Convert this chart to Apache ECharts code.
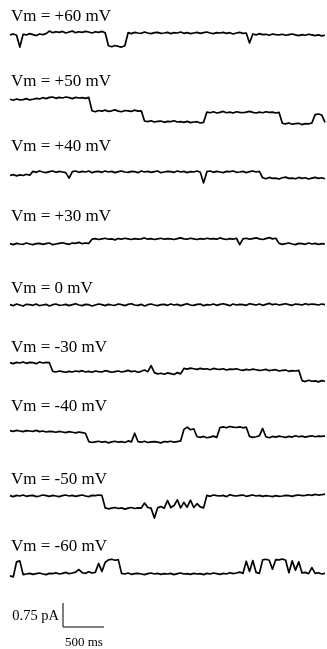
<!DOCTYPE html>
<html>
<head>
<meta charset="utf-8">
<script src="https://cdn.jsdelivr.net/npm/echarts@6/dist/echarts.min.js"></script>
<style>
  html, body { margin: 0; padding: 0; background: #fff; }
  #chart { width: 327px; height: 649px; }
</style>
</head>
<body>
<div id="chart"></div>
<script>
// Single-channel current records at nine holding potentials.
// Each record is sampled every 40 ms over 3.84 s; current in pA (upward = positive).
const sampleMs = 40;
const recordMs = 3840;

const voltages = ['+60', '+50', '+40', '+30', '0', '-30', '-40', '-50', '-60'];

const traceP60 = [
  -0.06,-0.03,-0.07,-0.44,-0.04,-0.06,-0.02,-0.05,-0.08,-0.03,-0.05,-0.02,
  0.06,0.01,0.04,0.02,0.05,0.00,0.03,0.06,0.01,0.04,0.02,0.05,0.03,0.00,0.04,0.02,0.05,0.01,
  -0.40,-0.43,-0.39,-0.42,-0.44,-0.40,
  0.01,-0.02,0.02,0.00,-0.01,0.03,0.00,-0.02,0.01,0.02,-0.01,0.00,0.02,-0.02,0.01,0.00,0.03,-0.01,0.01,-0.02,
  0.00,0.02,-0.01,0.01,0.03,0.00,-0.02,0.01,0.00,0.02,-0.01,0.01,-0.03,0.00,0.02,-0.01,0.00,
  -0.31,
  -0.03,-0.06,-0.02,-0.05,-0.04,-0.07,-0.03,-0.05,-0.06,-0.04,-0.07,-0.05,-0.03,-0.06,-0.08,-0.05,-0.07,-0.04,-0.06,-0.08,
  -0.06,-0.09,-0.07
];

const traceP50 = [
  -0.04,-0.07,-0.03,-0.06,-0.05,-0.02,-0.06,-0.04,-0.01,-0.03,
  0.01,-0.02,0.02,0.03,-0.01,0.02,0.00,0.03,0.01,-0.02,0.02,0.00,0.01,-0.01,0.02,
  -0.40,-0.43,-0.39,-0.41,-0.38,-0.42,-0.40,-0.37,-0.41,-0.43,-0.39,-0.40,-0.42,-0.38,-0.41,-0.40,
  -0.72,-0.74,-0.71,-0.75,-0.73,-0.72,-0.76,-0.73,-0.74,-0.71,-0.75,-0.74,-0.76,-0.73,-0.77,-0.75,-0.74,-0.78,-0.76,
  -0.44,-0.46,-0.43,-0.47,-0.45,-0.42,-0.46,-0.44,-0.47,-0.43,-0.45,-0.46,-0.44,-0.42,-0.45,-0.47,-0.44,-0.46,-0.43,-0.45,
  -0.44,-0.47,-0.45,
  -0.79,-0.81,-0.78,-0.82,-0.80,-0.79,-0.83,-0.80,-0.81,-0.78,
  -0.52,-0.50,-0.53,
  -0.76
];

const traceP40 = [
  -0.11,-0.08,-0.12,-0.09,-0.11,-0.07,-0.10,
  0.02,-0.01,0.03,0.00,-0.02,0.01,0.03,-0.01,0.02,0.00,-0.02,
  -0.19,
  0.01,0.03,-0.01,0.02,0.00,0.03,-0.02,0.01,0.02,-0.01,0.03,0.00,0.02,-0.02,0.01,0.03,0.00,-0.01,0.02,0.01,
  -0.02,0.03,0.00,0.02,-0.01,0.01,0.03,-0.02,0.00,0.02,0.01,-0.01,0.03,0.00,0.02,-0.02,0.01,0.00,0.03,-0.01,
  -0.34,
  0.01,0.03,-0.01,0.02,0.00,-0.02,0.02,0.01,0.03,-0.01,0.00,0.02,-0.02,0.01,0.03,0.00,0.02,
  -0.18,-0.21,-0.17,-0.20,-0.19,-0.22,-0.18,-0.16,-0.20,-0.19,-0.21,-0.17,-0.20,-0.18,-0.22,-0.19,-0.17,-0.20,-0.18,-0.21
];

const traceP30 = [
  0.01,-0.02,0.02,0.00,-0.01,0.03,0.00,-0.02,0.01,0.02,-0.01,0.01,0.03,-0.02,0.00,0.02,0.04,0.01,-0.01,0.03,
  0.02,0.05,0.01,0.03,0.02,
  0.15,0.17,0.14,0.16,0.18,0.15,0.16,0.13,0.17,0.15,0.18,0.16,0.14,0.17,0.15,0.16,0.19,0.15,0.17,0.14,
  0.16,0.18,0.15,0.17,0.16,0.14,0.17,0.19,0.16,0.15,0.18,0.16,0.14,0.17,0.15,0.18,0.16,0.17,0.15,0.19,
  0.16,0.14,0.17,0.15,0.18,
  -0.02,
  0.16,0.18,0.15,0.17,0.19,0.16,0.14,0.17,0.20,0.16,0.18,
  0.02,-0.01,0.01,0.03,0.00,-0.02,0.02,0.01,-0.01,0.03,0.00,0.02,-0.01,0.01,0.00
];

const traceZero = [
  0.01,-0.02,0.03,0.00,-0.03,0.02,0.01,-0.01,0.03,-0.02,
  0.00,0.02,-0.03,0.01,0.03,-0.01,0.00,0.02,-0.02,0.01,
  0.04,0.00,-0.02,0.02,0.01,-0.03,0.00,0.03,0.01,-0.02,
  0.02,0.00,-0.01,0.03,0.01,-0.02,0.02,0.04,0.00,-0.01,
  0.02,-0.03,0.01,0.03,0.00,-0.02,0.01,0.02,-0.01,0.03,
  0.00,0.02,-0.02,0.01,0.04,0.00,-0.01,0.02,0.03,-0.02,
  0.01,0.00,0.03,-0.01,0.02,0.04,0.01,-0.02,0.03,0.00,
  0.02,0.01,-0.01,0.04,0.02,0.00,0.03,-0.01,0.02,0.05,
  0.01,0.03,0.00,0.02,0.04,0.01,-0.01,0.03,0.02,0.00,
  0.04,0.01,0.03,0.02,0.00,0.03,0.01
];

const traceM30 = [
  0.01,-0.02,0.02,0.00,0.03,-0.01,0.02,0.01,-0.02,0.03,0.00,0.02,0.01,
  -0.26,-0.28,-0.25,-0.27,-0.29,-0.26,-0.28,-0.25,-0.27,-0.24,-0.28,-0.26,-0.29,-0.25,-0.27,-0.28,-0.24,-0.26,-0.29,-0.27,
  -0.25,-0.28,-0.26,-0.23,-0.27,-0.25,-0.29,-0.26,-0.22,-0.27,
  -0.08,
  -0.30,-0.34,-0.32,-0.35,-0.31,-0.33,-0.36,-0.30,-0.34,
  -0.17,-0.19,-0.16,-0.18,-0.20,-0.17,-0.19,-0.18,-0.21,-0.17,-0.19,-0.20,-0.18,-0.22,-0.19,-0.20,-0.18,-0.21,-0.23,-0.20,
  -0.22,-0.19,-0.21,-0.23,-0.22,-0.20,-0.24,-0.22,-0.21,-0.25,-0.23,-0.22,-0.26,-0.24,-0.25,-0.23,
  -0.55,-0.58,-0.54,-0.57,-0.56,-0.59,-0.55,-0.57
];

const traceM40 = [
  0.01,-0.01,0.02,0.00,-0.02,0.01,0.00,-0.01,0.02,-0.02,0.00,-0.03,-0.01,-0.02,-0.04,-0.01,-0.03,-0.05,-0.02,-0.04,
  -0.06,-0.03,-0.05,-0.07,
  -0.33,-0.36,-0.34,-0.32,-0.35,-0.33,-0.37,-0.34,-0.32,-0.35,-0.33,-0.36,-0.31,-0.34,
  -0.07,
  -0.33,-0.35,-0.32,-0.36,-0.34,-0.33,-0.35,-0.37,-0.33,-0.34,-0.32,-0.35,-0.33,-0.31,
  0.05,0.12,0.04,0.07,
  -0.18,-0.20,-0.17,-0.21,-0.19,-0.16,-0.20,
  0.11,0.13,0.10,0.14,0.12,0.11,0.13,0.10,0.12,
  -0.17,-0.20,-0.18,-0.15,
  0.08,
  -0.18,-0.21,-0.17,-0.19,-0.16,-0.18,-0.20,-0.17,-0.19,-0.15,-0.18,-0.16,-0.19,-0.17,-0.15,-0.18,-0.16,-0.17,-0.15
];

const traceM50 = [
  0.01,-0.02,0.02,0.00,0.03,-0.01,0.01,0.02,-0.02,0.00,0.03,0.01,-0.01,0.02,0.00,-0.02,0.01,0.03,0.00,0.02,
  -0.01,0.01,0.03,0.00,-0.02,0.02,0.01,0.03,0.02,
  -0.37,-0.40,-0.38,-0.36,-0.39,-0.37,-0.41,-0.38,-0.36,-0.39,-0.37,-0.38,
  -0.22,-0.36,-0.38,-0.69,
  -0.37,-0.33,-0.38,-0.14,-0.36,-0.30,-0.12,-0.37,-0.20,-0.35,-0.13,-0.36,-0.24,-0.34,-0.37,
  0.02,-0.01,0.03,0.01,0.00,0.02,-0.02,0.04,0.01,0.00,0.02,0.03,-0.01,0.01,0.03,0.00,0.02,-0.01,0.01,0.00,
  -0.02,0.01,-0.01,0.00,0.02,0.01,-0.01,0.02,0.03,0.01,0.02,0.04,0.02,0.05,0.03,0.04,0.06
];

const traceM60 = [
  -0.06,-0.09,0.38,0.41,-0.02,
  0.00,0.02,-0.01,0.01,0.03,0.00,-0.02,0.02,0.01,0.04,0.00,0.02,0.05,0.01,0.03,0.06,
  0.14,
  0.04,0.02,0.07,0.03,0.05,
  0.33,0.08,0.36,
  0.44,0.46,0.43,0.45,
  0.02,0.00,0.03,-0.01,0.01,0.02,0.00,-0.02,0.01,0.03,0.00,0.02,-0.01,0.01,0.00,0.02,-0.02,0.01,0.03,0.00,
  0.01,-0.01,0.02,0.00,0.01,-0.02,0.02,0.00,0.03,0.01,-0.01,0.02,0.00,0.04,0.01,0.03,0.06,0.02,
  0.40,0.08,0.42,0.05,0.02,
  0.44,0.46,0.43,0.15,0.45,0.44,0.47,0.43,
  0.04,0.41,0.12,0.38,
  0.03,0.05,0.01,
  0.20,
  0.02,0.04,0.00,0.02
];

const traces = [traceP60, traceP50, traceP40, traceP30, traceZero, traceM30, traceM40, traceM50, traceM60];

// Calibration bar values
const scaleCurrentPA = 0.75;
const scaleTimeMs = 500;

// ---- layout (pixels) ----
const traceLeft = 10;
const traceWidth = 315;
const pxPerPA = 32;
const yTop = 0.6, yBottom = -0.9;           // visible current window per record
const traceZeroY = [33, 98, 172, 244, 305, 363, 431, 496, 574];
const labelTopY = [8, 73, 138, 208, 280, 339, 398, 471, 538];
const labelFont = '17px "Liberation Serif", "Times New Roman", serif';
const scaleFontA = '14.5px "Liberation Serif", "Times New Roman", serif';
const scaleFontB = '13px "Liberation Serif", "Times New Roman", serif';
const barLeft = 63, barBottom = 627;

const grids = [], xAxes = [], yAxes = [], series = [];

traces.forEach((trace, k) => {
  grids.push({
    left: traceLeft,
    top: traceZeroY[k] - yTop * pxPerPA,
    width: traceWidth,
    height: (yTop - yBottom) * pxPerPA
  });
  xAxes.push({ type: 'value', gridIndex: k, min: 0, max: recordMs, show: false });
  yAxes.push({ type: 'value', gridIndex: k, min: yBottom, max: yTop, show: false });
  series.push({
    type: 'line',
    name: 'Vm = ' + voltages[k] + ' mV',
    xAxisIndex: k,
    yAxisIndex: k,
    data: trace.map((v, i) => [i * sampleMs, v]),
    showSymbol: false,
    symbol: 'none',
    clip: false,
    silent: true,
    lineStyle: { color: '#000', width: 1.7, join: 'round' }
  });
});

// Calibration bar: L-shape drawn in its own grid on the same scales
const bk = traces.length;
grids.push({
  left: barLeft,
  top: barBottom - scaleCurrentPA * pxPerPA,
  width: scaleTimeMs * traceWidth / recordMs,
  height: scaleCurrentPA * pxPerPA
});
xAxes.push({ type: 'value', gridIndex: bk, min: 0, max: scaleTimeMs, show: false });
yAxes.push({ type: 'value', gridIndex: bk, min: 0, max: scaleCurrentPA, show: false });
series.push({
  type: 'line',
  name: 'calibration',
  xAxisIndex: bk,
  yAxisIndex: bk,
  data: [[0, scaleCurrentPA], [0, 0], [scaleTimeMs, 0]],
  showSymbol: false,
  symbol: 'none',
  clip: false,
  silent: true,
  lineStyle: { color: '#000', width: 1 }
});

const graphic = voltages.map((v, k) => ({
  type: 'text',
  x: 11,
  y: labelTopY[k],
  silent: true,
  style: { text: 'Vm = ' + v + ' mV', font: labelFont, fill: '#000', verticalAlign: 'top' }
}));
graphic.push({
  type: 'text', x: 59, y: 609, silent: true,
  style: { text: scaleCurrentPA + ' pA', font: scaleFontA, fill: '#000', align: 'right', verticalAlign: 'top' }
});
graphic.push({
  type: 'text', x: 65, y: 636, silent: true,
  style: { text: scaleTimeMs + ' ms', font: scaleFontB, fill: '#000', verticalAlign: 'top' }
});

const chart = echarts.init(document.getElementById('chart'), null, { renderer: 'canvas' });
chart.setOption({
  animation: false,
  backgroundColor: '#fff',
  grid: grids,
  xAxis: xAxes,
  yAxis: yAxes,
  series: series,
  graphic: graphic
});
</script>
</body>
</html>
